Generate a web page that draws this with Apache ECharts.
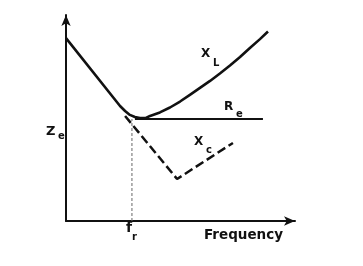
<!DOCTYPE html>
<html>
<head>
<meta charset="utf-8">
<script src="https://cdn.jsdelivr.net/npm/echarts@6/dist/echarts.min.js"></script>
<style>
html,body{margin:0;padding:0;background:#fff;}
#c{width:363px;height:266px;}
</style>
</head>
<body>
<div id="c"></div>
<script>
// Total impedance curve (X_L branch) : [frequency, impedance]
const impedanceCurve = [
  [0, 88.8], [23.6, 55.8], [25.8, 53.4], [27.9, 51.5], [30.1, 50.5], [32.3, 50.0],
  [34.9, 50.0], [36.7, 51.0], [41.0, 52.7], [45.4, 55.1], [49.8, 58.0], [54.1, 61.2],
  [58.5, 64.6], [62.9, 68.0], [67.2, 71.6], [71.6, 75.5], [76.0, 79.6], [80.3, 84.0],
  [84.7, 88.3], [88.2, 92.0]
];
// Resistance R_e (horizontal)
const resistanceLine = [[30.1, 49.5], [86.0, 49.5]];
// X_c branch (dashed)
const capacitiveCurve = [[25.8, 51.0], [48.5, 20.4], [72.9, 37.9]];
// Resonance frequency marker
const resonanceLine = [[28.8, 0], [28.8, 49.5]];

const FONT = '"DejaVu Sans", "Liberation Sans", sans-serif';
function txt(text, x, y, size) {
  return {
    type: 'text', x: x, y: y, z: 100,
    style: { text: text, font: 'bold ' + size + 'px ' + FONT, fill: '#111',
             textAlign: 'left', textVerticalAlign: 'top' }
  };
}

const chart = echarts.init(document.getElementById('c'), null, {renderer: 'canvas'});
chart.setOption({
  animation: false,
  backgroundColor: '#fff',
  grid: { left: 66, right: 68, top: 15, bottom: 45 },
  xAxis: {
    type: 'value', min: 0, max: 100,
    axisLine: { show: true, onZero: false, symbol: ['none', 'arrow'], symbolSize: [7, 11],
                lineStyle: { color: '#111', width: 2 } },
    axisTick: { show: false }, axisLabel: { show: false }, splitLine: { show: false }
  },
  yAxis: {
    type: 'value', min: 0, max: 100,
    axisLine: { show: true, onZero: false, symbol: ['none', 'arrow'], symbolSize: [7, 11],
                lineStyle: { color: '#111', width: 2 } },
    axisTick: { show: false }, axisLabel: { show: false }, splitLine: { show: false }
  },
  series: [
    { type: 'line', data: resonanceLine, showSymbol: false, silent: true,
      lineStyle: { color: '#666', width: 1, type: [3, 2] } },
    { type: 'line', data: capacitiveCurve, showSymbol: false, silent: true,
      lineStyle: { color: '#111', width: 2.5, type: [9, 4] } },
    { type: 'line', data: resistanceLine, showSymbol: false, silent: true,
      lineStyle: { color: '#111', width: 2 } },
    { type: 'line', data: impedanceCurve, showSymbol: false, silent: true, smooth: false,
      lineStyle: { color: '#111', width: 2.6, join: 'round' } }
  ],
  graphic: [
    txt('Z', 46, 125, 13), txt('e', 58, 131, 10),
    txt('f', 126, 221, 14), txt('r', 132, 232, 10),
    txt('X', 201, 48, 12), txt('L', 213, 58, 10),
    txt('R', 224, 101, 12), txt('e', 236, 109, 10),
    txt('X', 194, 136, 12), txt('c', 206, 145, 10),
    txt('Frequency', 204, 228, 13.5)
  ]
});
</script>
</body>
</html>
